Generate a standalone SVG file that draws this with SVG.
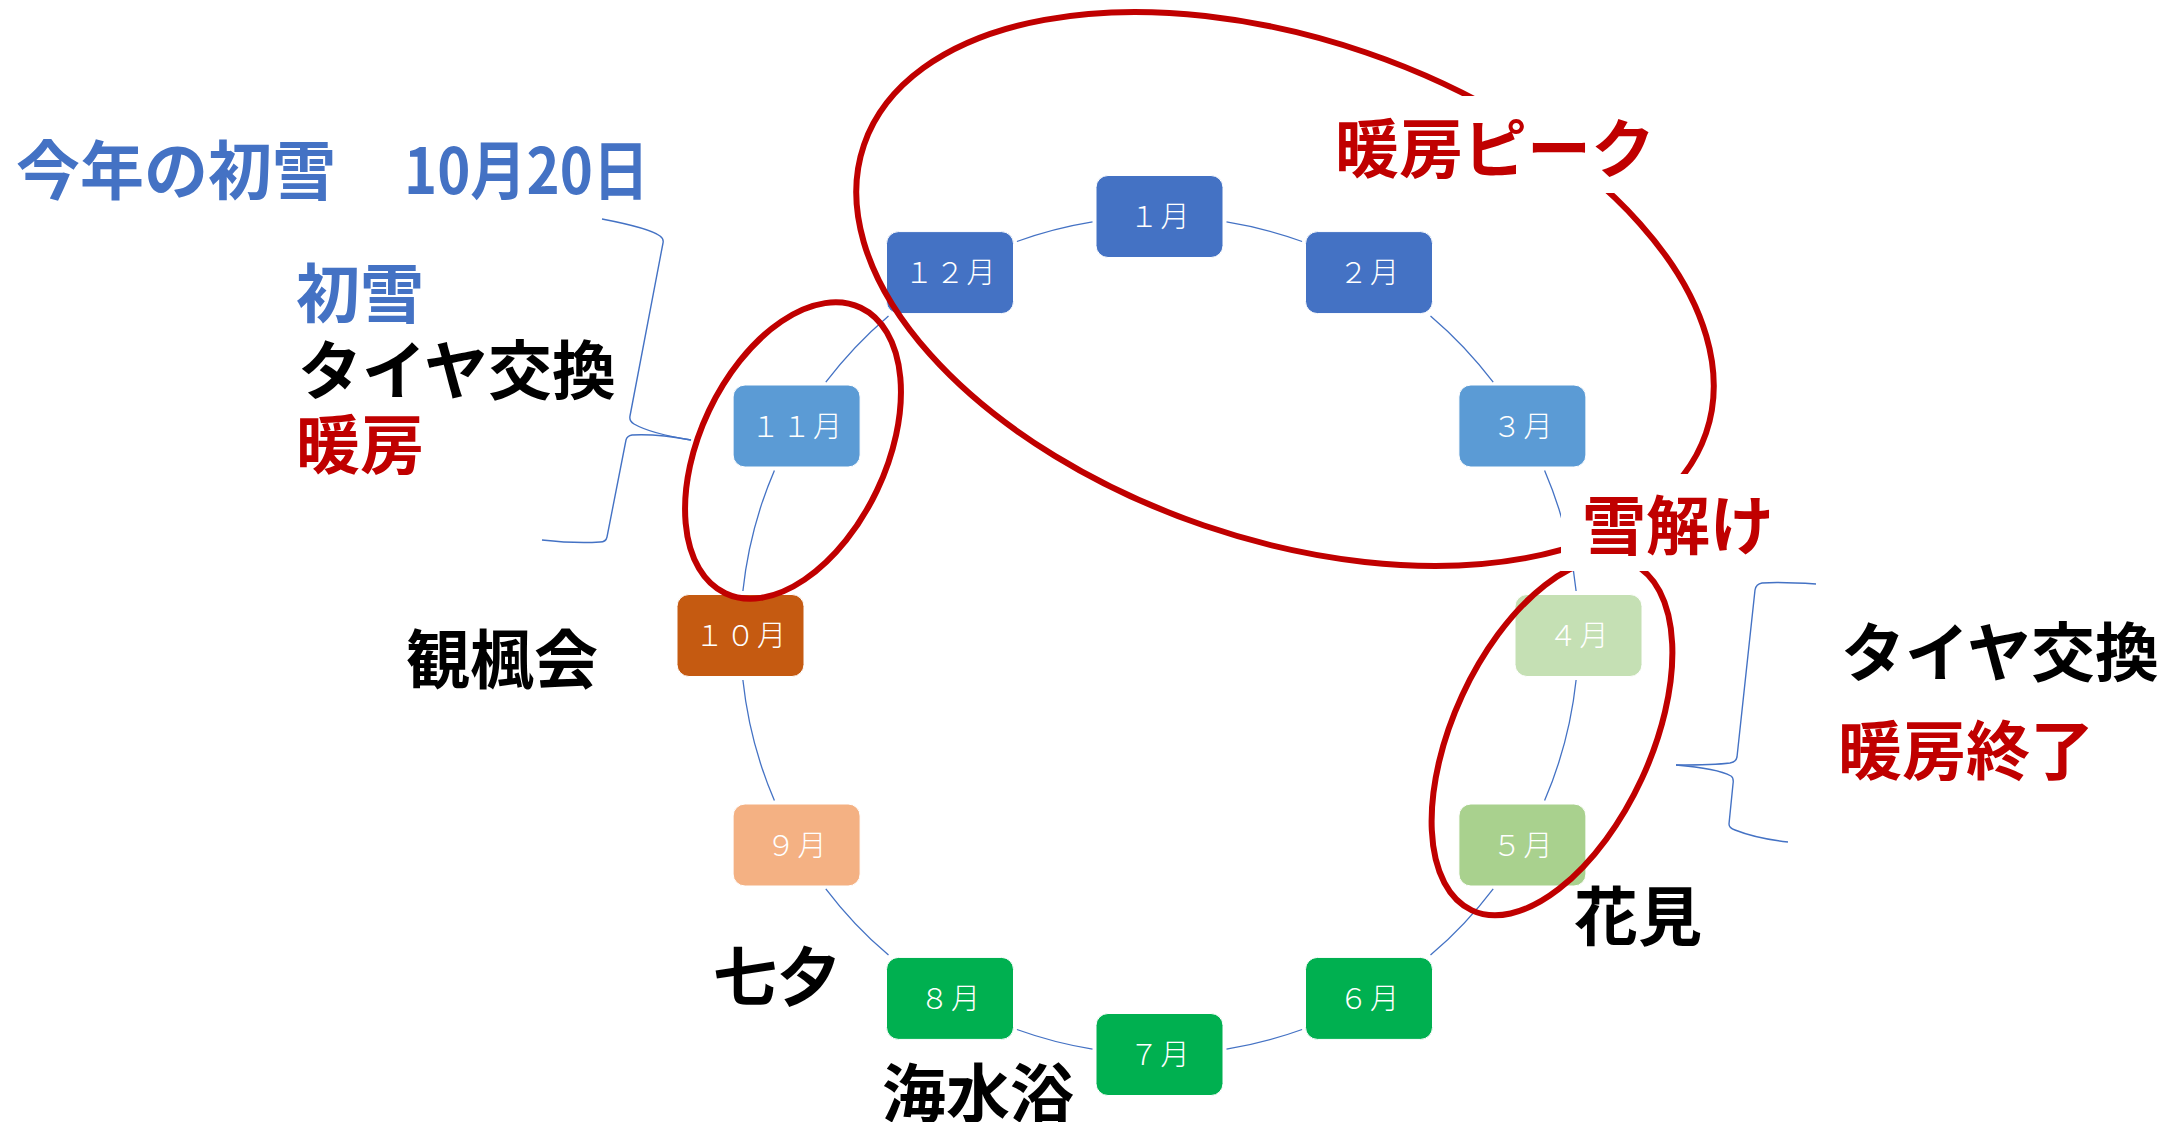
<svg xmlns="http://www.w3.org/2000/svg" width="2164" height="1122" viewBox="0 0 2164 1122">
<style>
.conn{fill:none;stroke:#4472C4;stroke-width:1.3}
.brace{fill:none;stroke:#4472C4;stroke-width:1.4}
.node rect{stroke:#ffffff;stroke-width:1}
.lbl{font-family:'Noto Sans CJK JP','Noto Sans',sans-serif;font-weight:300;font-size:29px;letter-spacing:2px;fill:#ffffff;text-anchor:middle}
.big{font-family:'Noto Sans CJK JP','Noto Sans',sans-serif;font-weight:700;font-size:64px}
.ring{fill:none;stroke:#C00000;stroke-width:6}
.blue{fill:#4472C4}
.red{fill:#C00000}
.blk{fill:#000000}
</style>
<rect x="0" y="0" width="2164" height="1122" fill="#ffffff"/>
<g id="connectors">
<path class="conn" d="M1226.5,221.9 A419,419 0 0 1 1302.1,241.5"/>
<path class="conn" d="M1430.5,315.9 A419,419 0 0 1 1493.2,382.2"/>
<path class="conn" d="M1544.6,470.4 A419,419 0 0 1 1576.1,591.0"/>
<path class="conn" d="M1576.1,680.0 A419,419 0 0 1 1544.6,800.6"/>
<path class="conn" d="M1493.2,888.8 A419,419 0 0 1 1430.5,955.1"/>
<path class="conn" d="M1302.1,1029.5 A419,419 0 0 1 1226.5,1049.1"/>
<path class="conn" d="M1092.5,1049.1 A419,419 0 0 1 1016.9,1029.5"/>
<path class="conn" d="M888.5,955.1 A419,419 0 0 1 825.8,888.8"/>
<path class="conn" d="M774.4,800.6 A419,419 0 0 1 742.9,680.0"/>
<path class="conn" d="M742.9,591.0 A419,419 0 0 1 774.4,470.4"/>
<path class="conn" d="M825.8,382.2 A419,419 0 0 1 888.5,315.9"/>
<path class="conn" d="M1016.9,241.5 A419,419 0 0 1 1092.5,221.9"/>
</g>
<g id="node-1" class="node"><rect x="1096" y="175.5" width="127" height="82" rx="12" fill="#4472C4"/><text class="lbl" x="1160.5" y="227">１月</text></g>
<g id="node-2" class="node"><rect x="1305.5" y="231.6" width="127" height="82" rx="12" fill="#4472C4"/><text class="lbl" x="1370" y="283">２月</text></g>
<g id="node-3" class="node"><rect x="1458.9" y="385" width="127" height="82" rx="12" fill="#5B9BD5"/><text class="lbl" x="1523.4" y="436.5">３月</text></g>
<g id="node-4" class="node"><rect x="1515" y="594.5" width="127" height="82" rx="12" fill="#C5E0B4"/><text class="lbl" x="1579.5" y="646">４月</text></g>
<g id="node-5" class="node"><rect x="1458.9" y="804" width="127" height="82" rx="12" fill="#A9D18E"/><text class="lbl" x="1523.4" y="855.5">５月</text></g>
<g id="node-6" class="node"><rect x="1305.5" y="957.4" width="127" height="82" rx="12" fill="#00B050"/><text class="lbl" x="1370" y="1009">６月</text></g>
<g id="node-7" class="node"><rect x="1096" y="1013.5" width="127" height="82" rx="12" fill="#00B050"/><text class="lbl" x="1160.5" y="1065">７月</text></g>
<g id="node-8" class="node"><rect x="886.5" y="957.4" width="127" height="82" rx="12" fill="#00B050"/><text class="lbl" x="951" y="1009">８月</text></g>
<g id="node-9" class="node"><rect x="733.1" y="804" width="127" height="82" rx="12" fill="#F4B183"/><text class="lbl" x="797.6" y="855.5">９月</text></g>
<g id="node-10" class="node"><rect x="677" y="594.5" width="127" height="82" rx="12" fill="#C55A11"/><text class="lbl" x="741.5" y="646">１０月</text></g>
<g id="node-11" class="node"><rect x="733.1" y="385" width="127" height="82" rx="12" fill="#5B9BD5"/><text class="lbl" x="797.6" y="436.5">１１月</text></g>
<g id="node-12" class="node"><rect x="886.5" y="231.6" width="127" height="82" rx="12" fill="#4472C4"/><text class="lbl" x="951" y="283">１２月</text></g>
<g id="highlights">
<ellipse class="ring" cx="1285" cy="289" rx="445" ry="250" transform="rotate(18.9 1285 289)"/>
<ellipse class="ring" cx="793" cy="450.5" rx="93" ry="158" transform="rotate(25.4 793 450.5)"/>
<ellipse class="ring" cx="1552" cy="737" rx="99" ry="191" transform="rotate(24.8 1552 737)"/>
</g>
<g id="label-heating-peak"><rect x="1320" y="96" width="345" height="97" fill="#ffffff"/><text class="big red" x="1335" y="171.5">暖房ピーク</text></g>
<g id="label-snowmelt"><rect x="1561" y="474" width="225" height="97" fill="#ffffff"/><text class="big red" x="1582" y="549">雪解け</text></g>
<g id="label-first-snow"><text class="big blue" x="16" y="194">今年の初雪　<tspan x="404" textLength="245" lengthAdjust="spacingAndGlyphs">10月20日</tspan></text></g>
<g id="label-nov"><text class="big blue" x="296" y="317">初雪</text><text class="big blk" x="298" y="394">タイヤ交換</text><text class="big red" x="296" y="468">暖房</text></g>
<g id="label-oct"><text class="big blk" x="406" y="683">観楓会</text></g>
<g id="label-tanabata"><text class="big blk" x="713" y="1000">七夕</text></g>
<g id="label-beach"><text class="big blk" x="882" y="1117">海水浴</text></g>
<g id="label-hanami"><text class="big blk" x="1574" y="940">花見</text></g>
<g id="label-apr"><text class="big blk" x="1841" y="676">タイヤ交換</text><text class="big red" x="1838" y="774">暖房終了</text></g>
<g id="braces">
<path class="brace" d="M602,219 C628,224 652,230 660,236 Q664,239 663,243 L630,416 Q629,421 634,424 C648,432 672,437 691,440"/>
<path class="brace" d="M691,440 C675,437 650,434 632,435 Q627,436 626,440 L607,537 Q606,542 600,542 C585,543 560,542 542,540"/>
<path class="brace" d="M1816,584 C1800,583 1775,582 1762,583 Q1756,584 1755,590 L1737,757 Q1736,762 1730,763 C1715,765 1695,765 1676,765"/>
<path class="brace" d="M1676,765 C1700,767 1722,771 1731,776 Q1734,778 1733,784 L1729,824 Q1729,828 1735,830 C1750,836 1770,840 1788,842"/>
</g>
</svg>
